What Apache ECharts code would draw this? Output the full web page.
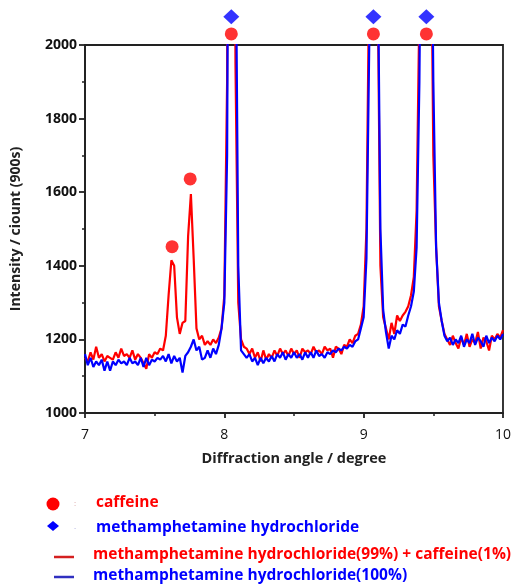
<!DOCTYPE html>
<html>
<head>
<meta charset="utf-8">
<script src="https://cdn.jsdelivr.net/npm/echarts@6/dist/echarts.min.js"></script>
<style>
  html, body { margin: 0; padding: 0; background: #fff; }
  #chart { width: 514px; height: 585px; }
</style>
</head>
<body>
<div id="chart"></div>
<script>
// sampling grid of the spectra (degree)
var angleStart = 7.0;
var angleStep = 0.02;

// methamphetamine hydrochloride(99%) + caffeine(1%)
var mixCounts = [
  1150, 1140, 1165, 1145, 1180, 1150, 1160, 1140, 1155, 1150,
  1145, 1165, 1150, 1175, 1155, 1160, 1150, 1170, 1145, 1160,
  1150, 1135, 1120, 1160, 1150, 1165, 1160, 1175, 1170, 1210,
  1320, 1415, 1400, 1260, 1215, 1245, 1250, 1480, 1595, 1420,
  1230, 1200, 1210, 1185, 1195, 1185, 1200, 1190, 1205, 1230,
  1320, 1900, 4000, 3800, 1950, 1300, 1200, 1180, 1175, 1160,
  1175, 1150, 1165, 1140, 1170, 1145, 1160, 1150, 1170, 1155,
  1175, 1160, 1170, 1155, 1175, 1160, 1170, 1150, 1175, 1165,
  1170, 1160, 1180, 1165, 1170, 1160, 1180, 1170, 1175, 1150,
  1180, 1175, 1160, 1185, 1180, 1200, 1190, 1210, 1215, 1240,
  1290, 1500, 2200, 4000, 3900, 2200, 1400, 1260, 1230, 1200,
  1245, 1215, 1265, 1250, 1265, 1275, 1290, 1320, 1370, 1550,
  2100, 3000, 4000, 4000, 2500, 1700, 1450, 1290, 1250, 1215,
  1200, 1185, 1210, 1190, 1175, 1205, 1185, 1215, 1180, 1200,
  1190, 1220, 1175, 1205, 1195, 1170, 1210, 1200, 1215, 1205,
  1225
];

// methamphetamine hydrochloride(100%)
var pureCounts = [
  1160, 1130, 1150, 1125, 1140, 1130, 1145, 1115, 1140, 1115,
  1140, 1130, 1145, 1135, 1140, 1130, 1150, 1135, 1140, 1130,
  1150, 1125, 1150, 1130, 1145, 1140, 1150, 1145, 1155, 1140,
  1160, 1135, 1155, 1140, 1150, 1110, 1155, 1165, 1180, 1200,
  1170, 1180, 1145, 1150, 1170, 1150, 1175, 1160, 1185, 1230,
  1300, 1700, 3500, 4000, 2400, 1400, 1170, 1160, 1150, 1160,
  1140, 1150, 1130, 1150, 1135, 1150, 1140, 1155, 1140, 1160,
  1150, 1165, 1145, 1160, 1150, 1165, 1150, 1160, 1145, 1165,
  1150, 1165, 1150, 1170, 1155, 1160, 1150, 1165, 1160, 1170,
  1165, 1175, 1170, 1180, 1175, 1185, 1180, 1195, 1200, 1230,
  1260, 1420, 2000, 4000, 4000, 2300, 1500, 1280, 1220, 1175,
  1210, 1200, 1225, 1215, 1240, 1235, 1265, 1290, 1330, 1450,
  1900, 2800, 4000, 4000, 2700, 1900, 1450, 1300, 1250, 1210,
  1195, 1205, 1185, 1200, 1190, 1210, 1180, 1200, 1190, 1215,
  1185, 1205, 1195, 1180, 1210, 1190, 1205, 1195, 1210, 1200,
  1215
];

// peak markers [angle, height]
var caffeinePeaks = [[7.625, 1452], [7.755, 1636], [8.05, 2030], [9.07, 2030], [9.45, 2030]];
var methPeaks = [[8.05, 2077], [9.07, 2077], [9.45, 2077]];

var xTicks = { min: 7, max: 10, interval: 1 };
var yTicks = { min: 1000, max: 2000, interval: 200 };

function toPairs(arr) {
  var out = [];
  for (var i = 0; i < arr.length; i++) {
    out.push([+(angleStart + i * angleStep).toFixed(2), arr[i]]);
  }
  return out;
}

var chart = echarts.init(document.getElementById('chart'), null, { renderer: 'canvas' });
var font = '"Open Sans", "DejaVu Sans", sans-serif';

chart.setOption({
  animation: false,
  backgroundColor: '#ffffff',
  grid: {
    left: 85, right: 9, top: 45, bottom: 172,
    show: true, borderColor: '#222', borderWidth: 1.8, backgroundColor: 'transparent'
  },
  xAxis: {
    type: 'value',
    min: xTicks.min, max: xTicks.max, interval: xTicks.interval,
    name: 'Diffraction angle / degree',
    nameLocation: 'middle', nameGap: 38,
    nameTextStyle: { color: '#222', fontSize: 14.5, fontWeight: 'bold', fontFamily: font },
    axisLine: { lineStyle: { color: '#222', width: 1.8 } },
    axisTick: { length: 5, lineStyle: { color: '#222', width: 1.8 } },
    minorTick: { show: true, splitNumber: 2, length: 3, lineStyle: { color: '#222', width: 1.5 } },
    splitLine: { show: false },
    axisLabel: { color: '#111', fontSize: 14, fontFamily: font, margin: 15 }
  },
  yAxis: {
    type: 'value',
    min: yTicks.min, max: yTicks.max, interval: yTicks.interval,
    name: 'Intensity / ciount (900s)',
    nameLocation: 'middle', nameGap: 62, nameRotate: 90,
    nameTextStyle: { color: '#222', fontSize: 14, fontWeight: 'bold', fontFamily: font },
    axisLine: { lineStyle: { color: '#222', width: 1.8 } },
    axisTick: { length: 6, lineStyle: { color: '#222', width: 1.8 } },
    minorTick: { show: true, splitNumber: 2, length: 3, lineStyle: { color: '#222', width: 1.5 } },
    splitLine: { show: false },
    axisLabel: {
      color: '#111', fontSize: 14, fontWeight: 'bold', fontFamily: font, margin: 8,
      formatter: function (v) { return String(v); }
    }
  },
  series: [
    {
      name: 'mix', type: 'line', data: toPairs(mixCounts),
      showSymbol: false, clip: true, z: 2,
      lineStyle: { color: '#ff0000', width: 2.2 }
    },
    {
      name: 'pure', type: 'line', data: toPairs(pureCounts),
      showSymbol: false, clip: true, z: 3,
      lineStyle: { color: '#0000ff', width: 2.2 }
    },
    {
      name: 'caffeine', type: 'scatter', data: caffeinePeaks,
      symbol: 'circle', symbolSize: 13, clip: false, z: 5,
      itemStyle: { color: '#ff0000' }
    },
    {
      name: 'meth', type: 'scatter', data: methPeaks,
      symbol: 'diamond', symbolSize: [16, 15], clip: false, z: 5,
      itemStyle: { color: '#0000ff' }
    }
  ],
  graphic: [
    { type: 'circle', shape: { cx: 53, cy: 504, r: 6.5 }, style: { fill: '#ff0000' } },
    { type: 'text', x: 74, y: 504, style: { text: ':', fill: '#d8a0a0', font: '8px ' + font, verticalAlign: 'middle' } },
    { type: 'text', x: 96, y: 503, style: { text: 'caffeine', fill: '#ff0000', font: 'bold 15.5px ' + font, verticalAlign: 'middle' } },
    { type: 'polygon', shape: { points: [[53, 521], [59, 526], [53, 531], [47, 526]] }, style: { fill: '#0000ff' } },
    { type: 'text', x: 74, y: 527, style: { text: '.', fill: '#a0a0d8', font: '8px ' + font, verticalAlign: 'middle' } },
    { type: 'text', x: 96, y: 528, style: { text: 'methamphetamine hydrochloride', fill: '#0000ff', font: 'bold 15.5px ' + font, verticalAlign: 'middle' } },
    { type: 'line', shape: { x1: 54, y1: 557, x2: 74, y2: 557 }, style: { stroke: '#d42020', lineWidth: 2.5 } },
    { type: 'text', x: 93, y: 555, style: { text: 'methamphetamine hydrochloride(99%) + caffeine(1%)', fill: '#ff0000', font: 'bold 15.5px ' + font, verticalAlign: 'middle' } },
    { type: 'line', shape: { x1: 54, y1: 577, x2: 74, y2: 577 }, style: { stroke: '#3030c0', lineWidth: 2.5 } },
    { type: 'text', x: 93, y: 576, style: { text: 'methamphetamine hydrochloride(100%)', fill: '#0000ff', font: 'bold 15.5px ' + font, verticalAlign: 'middle' } }
  ]
});
</script>
</body>
</html>
